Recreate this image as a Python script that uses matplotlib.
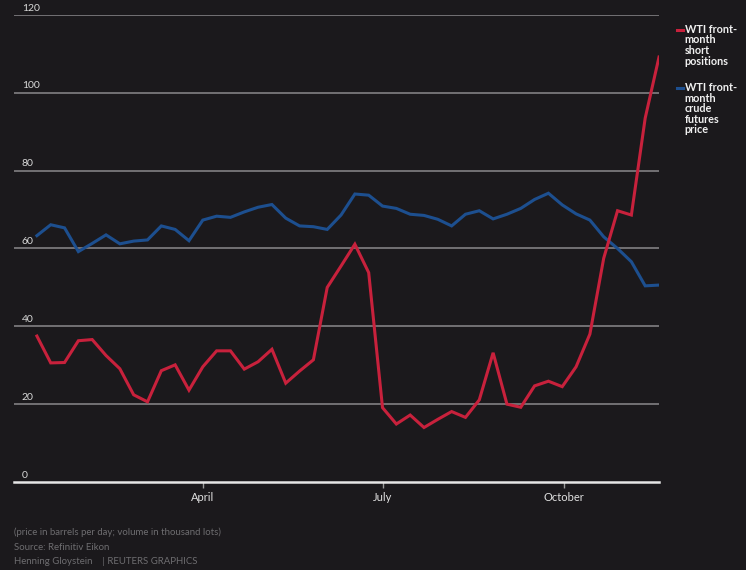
import pandas as pd
import matplotlib.pyplot as plt

plt.rcParams['font.family'] = ['Lato', 'DejaVu Sans']

# weekly observations, 2018
dates = pd.date_range('2018-01-07', periods=46, freq='7D')

short_positions = [37.5, 30.6, 30.7, 36.3, 36.6, 32.5, 29.1, 22.4, 20.6, 28.6,
                   30.1, 23.6, 29.6, 33.7, 33.7, 29.0, 30.9, 34.1, 25.4, 28.5,
                   31.4, 50.0, 55.5, 61.1, 53.8, 19.1, 14.9, 17.2, 14.0, 16.1,
                   18.1, 16.6, 21.1, 33.2, 20.0, 19.2, 24.7, 25.9, 24.5, 29.6,
                   38.0, 57.5, 69.7, 68.6, 93.5, 109.2]

wti_price = [63.3, 66.1, 65.3, 59.2, 61.3, 63.5, 61.2, 61.9, 62.2, 65.8,
             64.9, 62.0, 67.3, 68.3, 68.0, 69.4, 70.6, 71.3, 67.8, 65.8,
             65.6, 64.9, 68.6, 74.0, 73.7, 70.9, 70.3, 68.8, 68.5, 67.5,
             65.8, 68.8, 69.7, 67.6, 68.8, 70.3, 72.6, 74.2, 71.2, 68.9,
             67.3, 63.0, 60.0, 56.6, 50.4, 50.6]

month_ticks = ['2018-04-01', '2018-07-01', '2018-10-01']
month_labels = ['April', 'July', 'October']

bg = '#1b191c'
red = '#c8213c'
blue = '#1d4f8f'

fig = plt.figure(figsize=(7.46, 5.70), dpi=100, facecolor=bg)
ax = fig.add_axes([0.0188, 0.1544, 0.8646, 0.8193], facecolor=bg)

ax.plot(dates, wti_price, color=blue, lw=2.2, solid_joinstyle='miter')
ax.plot(dates, short_positions, color=red, lw=2.2, solid_joinstyle='miter')

ax.set_ylim(0, 120)
ax.set_xlim(pd.Timestamp('2017-12-26 10:00'), dates[-1])

for v in range(20, 121, 20):
    ax.axhline(v, color='#7a787b', lw=1.3, zorder=0)
for v in range(0, 121, 20):
    ax.text(0.012, v + 0.6, str(v), transform=ax.get_yaxis_transform(),
            color='#d9d9d9', fontsize=7.5, va='bottom', ha='left')

for s in ['top', 'right', 'left']:
    ax.spines[s].set_visible(False)
ax.spines['bottom'].set_color('#e6e6e6')
ax.spines['bottom'].set_linewidth(1.8)

ax.set_yticks([])
ax.set_xticks(pd.to_datetime(month_ticks))
ax.set_xticklabels(month_labels)
ax.tick_params(axis='x', colors='#9a9a9a', length=4, width=1, labelcolor='#e0e0e0',
               labelsize=8, pad=3)

# legend on the right
fig.lines.append(plt.Line2D([0.907, 0.915], [0.947, 0.947], color=red, lw=2.2,
                            transform=fig.transFigure))
fig.text(0.918, 0.958, 'WTI front-\nmonth\nshort\npositions', color='#f0f0f0',
         fontsize=7.8, fontweight='bold', va='top', linespacing=0.95)
fig.lines.append(plt.Line2D([0.907, 0.915], [0.845, 0.845], color=blue, lw=2.2,
                            transform=fig.transFigure))
fig.text(0.918, 0.856, 'WTI front-\nmonth\ncrude\nfutures\nprice', color='#f0f0f0',
         fontsize=7.8, fontweight='bold', va='top', linespacing=0.95)

# footer
foot = '#6e6d70'
fig.text(0.019, 0.061, '(price in barrels per day; volume in thousand lots)', color=foot, fontsize=6.9)
fig.text(0.019, 0.035, 'Source: Refinitiv Eikon', color=foot, fontsize=6.9)
fig.text(0.019, 0.010, 'Henning Gloystein    | REUTERS GRAPHICS', color=foot, fontsize=6.9)

fig.savefig('out.png', dpi=100, facecolor=bg)
